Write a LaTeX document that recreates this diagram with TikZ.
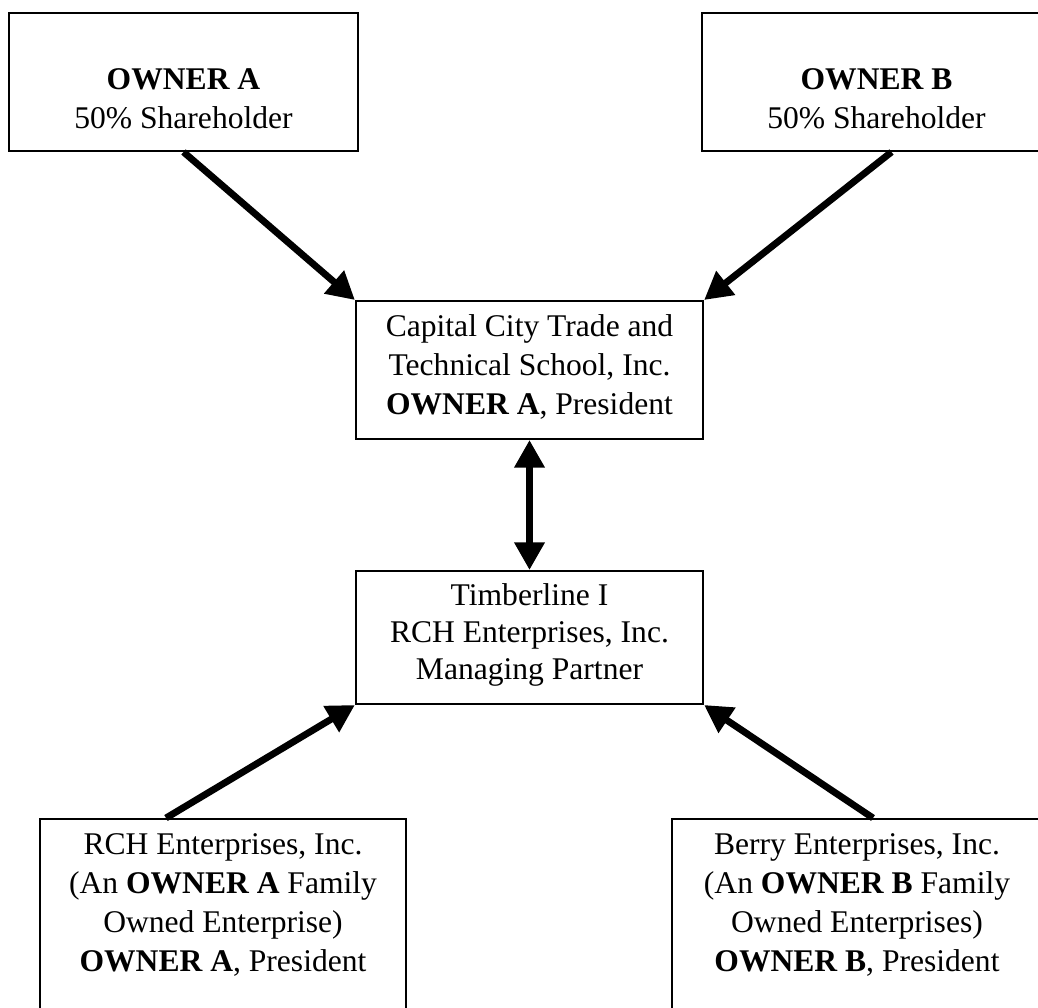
\documentclass[tikz,border=0pt]{standalone}
\usepackage{fontspec}
\setmainfont{Liberation Serif}
\usetikzlibrary{arrows.meta,calc}

\begin{document}
\begin{tikzpicture}[
			x=0.38pt, y=-0.38pt,
			orgbox/.style={draw, line width=0.8pt, align=center, inner sep=0pt,
				font=\fontsize{12}{14.8}\selectfont,
				execute at begin node=\strut, execute at end node=\strut},
			link/.style={line width=2.6pt, -{Triangle[length=10.5pt,width=11pt]}},
			twoway/.style={line width=2.6pt, {Triangle[length=10.5pt,width=11pt]}-{Triangle[length=10.5pt,width=11pt]}}
		]
		\useasboundingbox (0,0) rectangle (1038,1008);
		% owners
		\node[orgbox, minimum width=132.6pt, minimum height=52.4pt] (ownerA) at (183.5,82)
			{\\[10pt] \textbf{OWNER A}\\ 50\% Shareholder};
		\node[orgbox, minimum width=132.6pt, minimum height=52.4pt] (ownerB) at (876.5,82)
			{\\[10pt] \textbf{OWNER B}\\ 50\% Shareholder};
		% middle
		\node[orgbox, minimum width=131.9pt, minimum height=52.4pt] (school) at (529.5,370)
			{Capital City Trade and\\ Technical School, Inc.\\ \textbf{OWNER A}, President};
		\node[orgbox, minimum width=131.9pt, minimum height=50.5pt] (timber) at (529.5,637.5)
			{Timberline I\\[-0.6pt] RCH Enterprises, Inc.\\[-0.6pt] Managing Partner};
		% family enterprises
		\node[orgbox, minimum width=139.1pt, minimum height=82.8pt] (rch) at (223,928)
			{RCH Enterprises, Inc.\\ (An \textbf{OWNER A} Family\\ Owned Enterprise)\\ \textbf{OWNER A}, President\\};
		\node[orgbox, minimum width=140.6pt, minimum height=82.8pt] (berry) at (857,928)
			{Berry Enterprises, Inc.\\ (An \textbf{OWNER B} Family\\ Owned Enterprises)\\ \textbf{OWNER B}, President\\};

		\draw[link] (ownerA.south) -- (school.north west);
		\draw[link] ($(ownerB.south)+(15,0)$) -- (school.north east);
		\draw[twoway] (school.south) -- (timber.north);
		\draw[link] ($(rch.north)+(-57,0)$) -- (timber.south west);
		\draw[link] ($(berry.north)+(16,0)$) -- (timber.south east);
	\end{tikzpicture}
\end{document}
